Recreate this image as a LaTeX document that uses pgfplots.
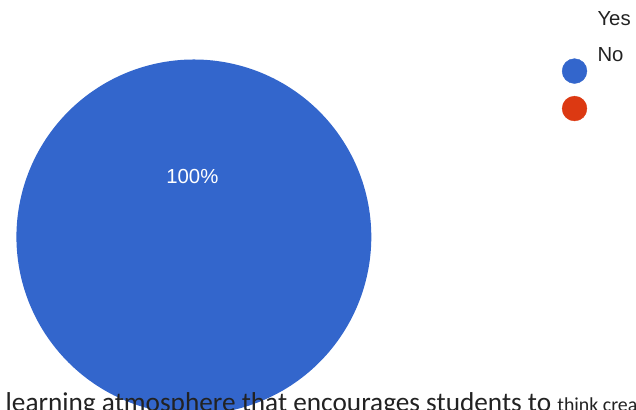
\documentclass[border=0pt]{standalone}
\usepackage{pgfplots}
\usepackage{pgfplotstable}
\pgfplotsset{compat=1.18}
\usepackage{fontspec}
\setmainfont{Liberation Sans}
\newfontfamily\calibri{Carlito}
\definecolor{pieblue}{HTML}{3366CC}
\definecolor{piered}{HTML}{DC3912}
\definecolor{txt}{HTML}{222222}

\pgfplotstableread{
label value
Yes 100
No 0
}\shares

\begin{document}
\pgfplotstablegetelem{0}{value}\of\shares
\pgfmathsetmacro\yesangle{3.6*\pgfplotsretval}
\pgfmathsetmacro\startangle{90-\yesangle}
\begin{tikzpicture}
\useasboundingbox (0,0) rectangle (636pt,413pt);
\clip (0,0) rectangle (636pt,413pt);
\begin{axis}[
  at={(0,0)}, anchor=south west,
  scale only axis, width=636pt, height=413pt,
  xmin=0, xmax=636, ymin=0, ymax=413,
  enlargelimits=false, hide axis, clip=false,
]
% pie slice "Yes" (100%)
\addplot[fill=pieblue, draw=none, domain=\startangle:90, samples=241, variable=\t]
  ({190+179*cos(\t)}, {174+179*sin(\t)});
% legend markers
\addplot[only marks, mark=*, mark size=12.5pt, color=pieblue, mark options={draw=none,fill=pieblue}]
  coordinates {(574,341.3)};
\addplot[only marks, mark=*, mark size=12.5pt, color=piered, mark options={draw=none,fill=piered}]
  coordinates {(574,303.5)};
\node[anchor=base, text=white, inner sep=0pt, font=\fontsize{20.5}{24}\selectfont] at (axis cs:188.5,228) {100\%};
\node[anchor=base west, text=txt, inner sep=0pt, font=\fontsize{20.5}{24}\selectfont] at (axis cs:597,387.3) {Yes};
\node[anchor=base west, text=txt, inner sep=0pt, font=\fontsize{20.5}{24}\selectfont] at (axis cs:597,351.3) {No};
\node[anchor=base west, text=txt, inner sep=0pt, font=\calibri\fontsize{27.5}{32}\selectfont] at (axis cs:0,-2) {learning atmosphere that encourages students to {\fontsize{20}{24}\selectfont think creatively}};
\end{axis}
\end{tikzpicture}
\end{document}
